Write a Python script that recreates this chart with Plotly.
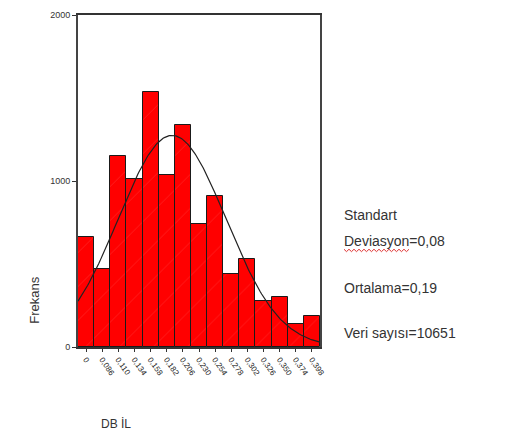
import numpy as np
import plotly.graph_objects as go

# Histogram of DBİL values (bin centres and counts)
bin_width = 0.024
bin_centers = [0.062, 0.086, 0.110, 0.134, 0.158, 0.182, 0.206, 0.230,
               0.254, 0.278, 0.302, 0.326, 0.350, 0.374, 0.398]
counts = [662, 468, 1149, 1010, 1537, 1036, 1339, 740,
          911, 438, 528, 280, 299, 141, 188]
tick_labels = ["0", "0,086", "0,110", "0,134", "0,158", "0,182", "0,206", "0,230",
               "0,254", "0,278", "0,302", "0,326", "0,350", "0,374", "0,398"]

# Summary statistics
std_dev = 0.08
mean = 0.19
n_total = 10651

# Figure geometry (pixels)
W, H = 514, 442
L, R, T, B = 78, 194, 10, 95
pw, ph = W - L - R, H - T - B


def px(x):
    return (x - L) / pw


def py(y):
    return (H - B - y) / ph


x_lo = bin_centers[0] - bin_width / 2
x_hi = bin_centers[-1] + bin_width / 2

fig = go.Figure()
fig.add_trace(go.Bar(
    x=bin_centers, y=counts, width=bin_width,
    marker=dict(color="#ff0000",
                line=dict(color="#1a1a1a", width=1),
                pattern=dict(shape="/", fgcolor="rgba(255,170,170,0.45)",
                             size=24, solidity=0.03)),
    hoverinfo="skip", showlegend=False,
))

# Fitted normal curve
xs = np.linspace(x_lo, x_hi, 200)
ys = n_total * bin_width / (std_dev * np.sqrt(2 * np.pi)) * np.exp(-0.5 * ((xs - mean) / std_dev) ** 2)
fig.add_trace(go.Scatter(x=xs, y=ys, mode="lines",
                         line=dict(color="#222222", width=1.2),
                         hoverinfo="skip", showlegend=False))

font = "Liberation Sans, Arial, sans-serif"
txt = "#333333"

fig.update_layout(
    width=W, height=H,
    margin=dict(l=L, r=R, t=T, b=B),
    paper_bgcolor="white", plot_bgcolor="white",
    bargap=0,
    font=dict(family=font, color=txt),
    xaxis=dict(range=[x_lo, x_hi], tickmode="array", tickvals=bin_centers,
               ticktext=tick_labels, tickangle=55, tickfont=dict(size=8, color="#222"),
               ticks="outside", ticklen=3, tickcolor="#333",
               showline=True, linecolor="#333", linewidth=1.5, mirror=True,
               showgrid=False, zeroline=False, fixedrange=True),
    yaxis=dict(range=[0, 2000], tickvals=[0, 1000, 2000],
               ticktext=["0", "1000", "2000"], tickfont=dict(size=9, color="#333"),
               ticks="outside", ticklen=4, tickcolor="#333",
               showline=True, linecolor="#444", linewidth=1.8, mirror=True,
               showgrid=False, zeroline=False, fixedrange=True),
)

annotations = [
    dict(text="Frekans", x=px(35), y=py(300), xanchor="center", font=dict(size=13), textangle=-90),
    dict(text="Standart", x=px(342), y=py(213), xanchor="left", font=dict(size=14)),
    dict(text="Deviasyon=0,08", x=px(342), y=py(239), xanchor="left", font=dict(size=14)),
    dict(text="Ortalama=0,19", x=px(342), y=py(287), xanchor="left", font=dict(size=14)),
    dict(text="Veri sayısı=10651", x=px(342), y=py(333), xanchor="left", font=dict(size=14)),
    dict(text="DB İL", x=px(99), y=py(425), xanchor="left", font=dict(size=12)),
]
for a in annotations:
    a.update(xref="paper", yref="paper", showarrow=False, yanchor="middle")
fig.update_layout(annotations=annotations)

# Red wavy spell-check underline beneath "Deviasyon"
zig = []
x0, x1, yb = 344, 410, 249
k = 0
xx = x0
while xx <= x1:
    yy = yb + (1.2 if k % 2 else -1.2)
    zig.append(f"{'M' if k == 0 else 'L'} {px(xx):.4f},{py(yy):.4f}")
    xx += 2.5
    k += 1
fig.add_shape(type="path", path=" ".join(zig), xref="paper", yref="paper",
              line=dict(color="#e03030", width=1))

fig.write_html("out.html")
